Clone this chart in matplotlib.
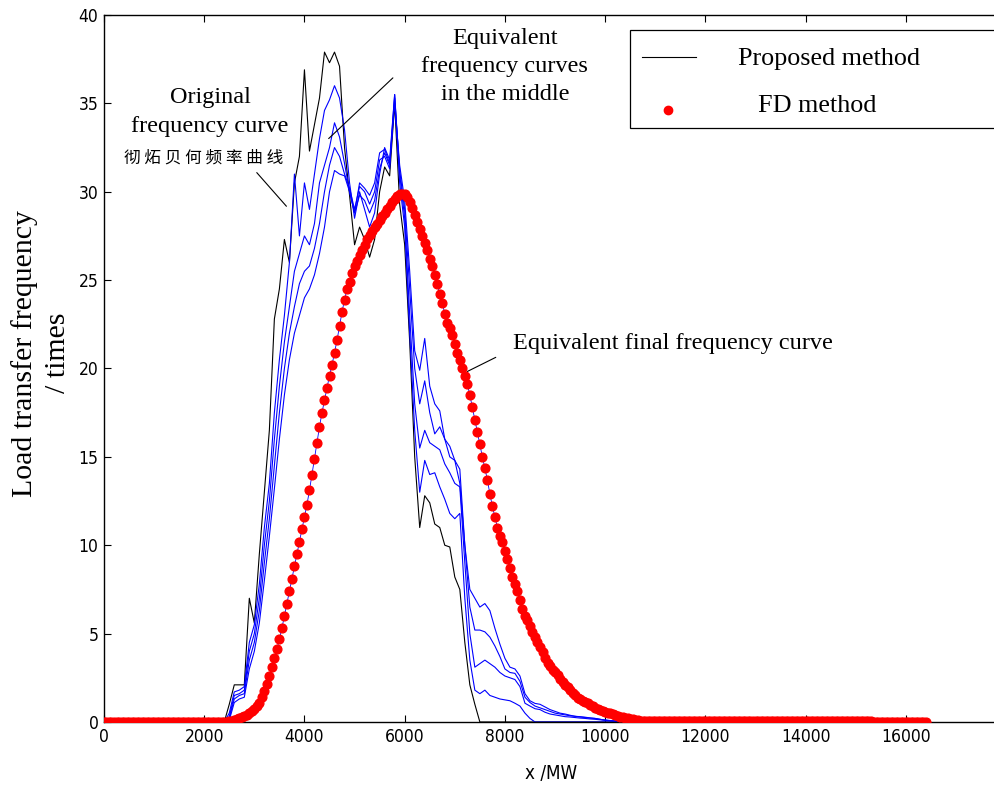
import numpy as np
import matplotlib
matplotlib.use('Agg')
import matplotlib.pyplot as plt
from matplotlib.patches import Rectangle
from matplotlib.lines import Line2D

# x grid of the iteration curves: 0, then 2400..10400 MW every 100 MW
curve_x = np.concatenate([[0], np.arange(2400, 10401, 100)])

# original frequency curve (black)
original = ([0,
             0, 1.0, 2.1, 2.1, 2.1, 7.0,
             5.6, 9.5, 13.0, 16.5, 22.8, 24.5, 27.3, 26.0, 30.5, 32.0,
             36.9, 32.3, 33.8, 35.3, 37.9, 37.3, 37.9, 37.1, 32.5, 29.8,
             27.0, 28.0, 27.3, 26.3, 27.3, 30.0, 31.4, 30.9, 35.0, 29.3,
             27.0, 21.5, 15.0, 11.0, 12.8, 12.4, 11.2, 11.0, 10.0, 9.9,
             8.2, 7.5, 4.5, 2.1, 1.0, 0, 0, 0, 0, 0]
            + [0] * 25)

# equivalent curves in the middle (blue)
middle_a = ([0,
             0, 0.5, 1.7, 1.8, 2.0, 4.5,
             5.5, 7.8, 11.0, 13.5, 17.5, 20.5, 23.0, 26.0, 31.0, 27.5,
             30.5, 29.0, 31.0, 33.0, 34.6, 35.2, 36.0, 35.3, 33.5, 30.5,
             28.5, 30.0, 29.0, 28.0, 28.8, 31.0, 32.5, 31.8, 35.5, 30.5,
             28.0, 22.0, 16.5, 13.0, 14.8, 14.0, 14.1, 13.3, 12.6, 11.8,
             11.5, 11.8, 7.0, 3.5, 1.8, 1.6, 1.8, 1.5, 1.4, 1.3,
             1.25, 1.2, 1.06, 0.9, 0.5, 0.2, 0, 0, 0, 0]
            + [0] * 15)
middle_b = [0,
            0, 0.3, 1.5, 1.6, 1.8, 4.0,
            5.0, 7.0, 10.0, 12.5, 16.0, 19.0, 21.5, 23.5, 25.5, 26.5,
            27.5, 27.0, 28.2, 30.5, 31.5, 32.5, 33.9, 33.1, 31.6, 30.0,
            28.8, 29.8, 29.5, 28.8, 29.5, 31.3, 32.2, 31.5, 35.5, 31.0,
            28.5, 23.0, 18.0, 15.5, 16.5, 15.8, 15.6, 15.4, 14.6, 14.1,
            13.5, 13.3, 9.0, 5.0, 3.1, 3.3, 3.5, 3.3, 3.1, 2.8,
            2.6, 2.5, 2.4, 2.0, 1.06, 0.9, 0.75, 0.7, 0.55, 0.45,
            0.4, 0.35, 0.3, 0.28, 0.25, 0.22, 0.2, 0.17, 0.15, 0.12,
            0.1, 0.07, 0.05, 0.03, 0]
middle_c = [0,
            0, 0.2, 1.3, 1.5, 1.6, 3.5,
            4.5, 6.3, 9.0, 11.5, 14.5, 17.5, 20.0, 22.0, 23.5, 24.8,
            25.5, 25.8, 26.8, 28.2, 30.0, 31.5, 32.5, 32.0, 31.0, 30.2,
            29.0, 30.3, 30.0, 29.3, 30.0, 31.8, 32.0, 31.3, 35.3, 31.2,
            29.0, 24.5, 20.0, 18.0, 19.3, 17.5, 16.3, 16.7, 16.0, 15.0,
            14.8, 14.3, 10.0, 6.5, 5.2, 5.2, 5.1, 4.8, 4.3, 3.7,
            3.0, 2.8, 2.75, 2.3, 1.4, 1.1, 0.9, 0.8, 0.7, 0.6,
            0.5, 0.45, 0.4, 0.35, 0.32, 0.3, 0.27, 0.23, 0.2, 0.15,
            0.1, 0.08, 0.05, 0.03, 0]
middle_d = [0,
            0, 0.1, 1.1, 1.3, 1.4, 3.0,
            4.0, 5.6, 8.0, 10.5, 13.2, 16.0, 18.5, 20.5, 22.0, 23.0,
            24.0, 24.5, 25.3, 26.5, 28.0, 30.0, 31.2, 31.0, 30.9, 30.0,
            28.8, 30.5, 30.2, 29.8, 30.5, 32.2, 32.4, 31.6, 35.0, 31.5,
            29.5, 25.5, 21.0, 19.9, 21.7, 19.0, 18.0, 17.6, 16.0, 15.6,
            14.8, 13.5, 10.0, 7.5, 7.0, 6.5, 6.7, 6.3, 5.3, 4.4,
            3.6, 3.1, 3.0, 2.6, 1.6, 1.2, 1.05, 1.0, 0.85, 0.7,
            0.6, 0.5, 0.45, 0.38, 0.32, 0.28, 0.25, 0.22, 0.2, 0.15,
            0.1, 0.08, 0.05, 0.03, 0]
middle_curves = [middle_a, middle_b, middle_c, middle_d]

# FD method / equivalent final frequency curve, every 50 MW from 0
fd_rise_fall = [0.05, 0.08, 0.11, 0.15, 0.2, 0.26, 0.33, 0.41, 0.5, 0.61,
                0.74, 0.9, 1.1, 1.4, 1.75, 2.15, 2.6, 3.1, 3.6, 4.1,
                4.7, 5.3, 6.0, 6.7, 7.4, 8.1, 8.8, 9.5, 10.2, 10.9,
                11.6, 12.3, 13.1, 14.0, 14.9, 15.8, 16.7, 17.5, 18.2, 18.9,
                19.6, 20.2, 20.9, 21.6, 22.4, 23.2, 23.9, 24.5, 24.9, 25.4,
                25.8, 26.1, 26.4, 26.7, 27.0, 27.3, 27.55, 27.8, 28.0, 28.2,
                28.4, 28.6, 28.8, 29.0, 29.2, 29.4, 29.6, 29.75, 29.85, 29.9,
                29.85, 29.7, 29.4, 29.1, 28.7, 28.3, 27.9, 27.5, 27.1, 26.7,
                26.2, 25.8, 25.3, 24.8, 24.2, 23.7, 23.1, 22.6, 22.3, 21.9,
                21.4, 20.9, 20.5, 20.0, 19.6, 19.1, 18.5, 17.8, 17.1, 16.4,
                15.7, 15.0, 14.35, 13.7, 12.9, 12.2, 11.6, 11.0, 10.5, 10.2,
                9.7, 9.2, 8.7, 8.2, 7.8, 7.4, 6.9, 6.4, 6.0, 5.75,
                5.45, 5.1, 4.8, 4.5, 4.25, 3.95, 3.6, 3.35, 3.15, 2.95,
                2.8, 2.65, 2.45, 2.25, 2.1, 1.95, 1.8, 1.65, 1.5, 1.38,
                1.28, 1.2, 1.13, 1.05, 0.97, 0.89, 0.81, 0.74, 0.69, 0.63,
                0.58, 0.53, 0.48, 0.44, 0.39, 0.33, 0.29, 0.26, 0.23, 0.21,
                0.19, 0.16, 0.13, 0.1, 0.08, 0.06]
fd_values = [0] * 50 + fd_rise_fall + [0.06] * 91 + [0] * 22
fd_x = np.arange(0, 50 * len(fd_values), 50)

x_ticks = np.arange(0, 16001, 2000)
y_ticks = np.arange(0, 41, 5)

serif = ['Liberation Serif', 'DejaVu Serif']
cjk = ['Noto Sans CJK SC', 'DejaVu Sans']

fig = plt.figure(figsize=(9.94, 7.85), dpi=100)
ax = fig.add_axes([0.1046, 0.0803, 0.899, 0.9006])

ax.plot(curve_x, original, color='black', lw=0.8)
for c in middle_curves:
    ax.plot(curve_x, c, color='#0000ff', lw=0.8)
ax.plot(fd_x, fd_values, color='#0000ff', lw=0.6, marker='o', ms=6.3,
        mfc='red', mec='red', zorder=5)

ax.set_xlim(0, 17830)
ax.set_ylim(0, 40)
ax.set_xticks(x_ticks)
ax.set_yticks(y_ticks)
ax.tick_params(direction='in', top=True, right=False, length=5, width=0.8,
               labelsize=12.5, pad=4)
for lab in ax.get_xticklabels() + ax.get_yticklabels():
    lab.set_family('DejaVu Sans')
    lab.set_stretch('condensed')
for s in ax.spines.values():
    s.set_linewidth(1.0)

ax.set_xlabel('x /MW', family='DejaVu Sans', stretch='condensed',
              fontsize=13.5, labelpad=13)
fig.text(0.025, 0.55, 'Load transfer frequency', rotation=90, family=serif,
         fontsize=21.5, ha='center', va='center')
fig.text(0.058, 0.55, '/ times', rotation=90, family=serif,
         fontsize=21.5, ha='center', va='center')

# annotations
ax.text(2115, 34.5, 'Original\nfrequency curve', family=serif, fontsize=17.5,
        ha='center', va='center', linespacing=1.5)
ax.text(1990, 31.9, '彻 炻 贝 何 频 率 曲 线', family=cjk, fontsize=12,
        ha='center', va='center')
ax.annotate('', xy=(3677, 29.06), xytext=(3012, 31.2),
            arrowprops=dict(arrowstyle='-', lw=0.8, color='black'))
ax.text(8000, 37.1, 'Equivalent\nfrequency curves\nin the middle', family=serif,
        fontsize=17.5, ha='center', va='center', linespacing=1.45)
ax.annotate('', xy=(4443, 32.9), xytext=(5805, 36.55),
            arrowprops=dict(arrowstyle='-', lw=0.8, color='black'))
ax.text(8160, 21.44, 'Equivalent final frequency curve', family=serif,
        fontsize=17.5, ha='left', va='center')
ax.annotate('', xy=(7200, 19.76), xytext=(7867, 20.7),
            arrowprops=dict(arrowstyle='-', lw=0.8, color='black'))

# legend box (MATLAB style, centred labels)
tr = ax.transAxes
ax.add_patch(Rectangle((0.5888, 0.8402), 0.45, 0.1386, transform=tr,
                       fill=True, fc='white', ec='black', lw=0.9,
                       clip_on=False, zorder=6))
ax.add_line(Line2D([0.6022, 0.6629], [0.9406, 0.9406], transform=tr,
                   color='black', lw=0.8, zorder=7))
ax.add_line(Line2D([0.6315], [0.8656], transform=tr, marker='o', ms=6,
                   mfc='red', mec='red', ls='none', zorder=7))
ax.text(0.8112, 0.9376, 'Proposed method', transform=tr, family=serif,
        fontsize=18.8, ha='center', va='center', zorder=7)
ax.text(0.7978, 0.871, 'FD method', transform=tr, family=serif,
        fontsize=18.8, ha='center', va='center', zorder=7)

fig.savefig('out.png', dpi=100)
